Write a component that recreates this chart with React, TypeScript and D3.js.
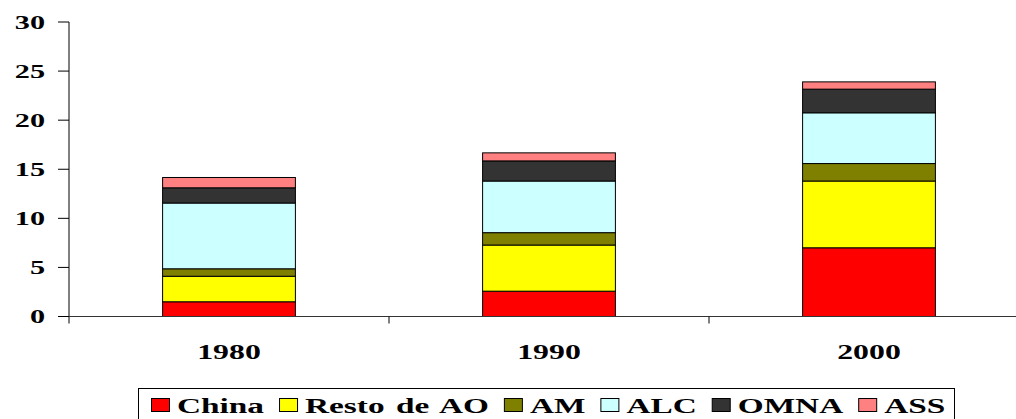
import React, { useEffect, useRef } from "react";
import * as d3 from "d3";

const years = ["1980", "1990", "2000"];
const seriesNames = ["China", "Resto de AO", "AM", "ALC", "OMNA", "ASS"];
const seriesColors = ["#FF0000", "#FFFF00", "#808000", "#CCFFFF", "#333333", "#FF8080"];
const china = [1.5, 2.58, 7.0];
const restoDeAO = [2.6, 4.7, 6.8];
const am = [0.76, 1.26, 1.78];
const alc = [6.7, 5.26, 5.17];
const omna = [1.55, 2.05, 2.41];
const ass = [1.05, 0.82, 0.74];
const yTicks = [0, 5, 10, 15, 20, 25, 30];

const W = 1016;
const H = 419;
const SX = 1.55;
const FONT = "'Liberation Serif', 'Times New Roman', serif";

export default function App() {
  const ref = useRef<SVGSVGElement | null>(null);

  useEffect(() => {
    const svg = d3.select(ref.current);
    svg.selectAll("*").remove();

    const plotLeft = 69;
    const plotTop = 22;
    const plotBottom = 316.5;
    const bandW = 320;

    const x = d3
      .scaleBand<string>()
      .domain(years)
      .range([plotLeft, plotLeft + bandW * years.length])
      .paddingInner(0.585)
      .paddingOuter(0.2925);
    const y = d3.scaleLinear().domain([0, 30]).range([plotBottom, plotTop]);

    const values = [china, restoDeAO, am, alc, omna, ass];
    const table = years.map((yr, i) => {
      const row: any = { year: yr };
      seriesNames.forEach((s, j) => (row[s] = values[j][i]));
      return row;
    });
    const stacked = d3.stack<any>().keys(seriesNames)(table);

    const txt = (
      g: any,
      tx: number,
      ty: number,
      s: string,
      anchor: string,
      size: number
    ) =>
      g
        .append("text")
        .attr("transform", `translate(${tx},${ty}) scale(${SX},1)`)
        .attr("text-anchor", anchor)
        .attr("font-family", FONT)
        .attr("font-weight", "bold")
        .attr("font-size", size)
        .attr("fill", "#000")
        .text(s);

    // bars
    stacked.forEach((layer, j) => {
      svg
        .append("g")
        .selectAll("rect")
        .data(layer)
        .join("rect")
        .attr("x", (d: any) => x(d.data.year)!)
        .attr("width", x.bandwidth())
        .attr("y", (d: any) => y(d[1]))
        .attr("height", (d: any) => y(d[0]) - y(d[1]))
        .attr("fill", seriesColors[j])
        .attr("stroke", "#000")
        .attr("stroke-width", 1);
    });

    // y axis
    const ax = svg.append("g");
    ax.append("line")
      .attr("x1", plotLeft)
      .attr("x2", plotLeft)
      .attr("y1", plotTop)
      .attr("y2", plotBottom + 7)
      .attr("stroke", "#000");
    yTicks.forEach((t) => {
      ax.append("line")
        .attr("x1", plotLeft - 11)
        .attr("x2", plotLeft)
        .attr("y1", y(t))
        .attr("y2", y(t))
        .attr("stroke", "#000");
      txt(ax, 45, y(t) + 6.5, String(t), "end", 19.5);
    });

    // x axis
    ax.append("line")
      .attr("x1", plotLeft)
      .attr("x2", W)
      .attr("y1", plotBottom)
      .attr("y2", plotBottom)
      .attr("stroke", "#333");
    years.forEach((yr, i) => {
      const bx = plotLeft + bandW * (i + 1);
      ax.append("line")
        .attr("x1", bx)
        .attr("x2", bx)
        .attr("y1", plotBottom)
        .attr("y2", plotBottom + 7)
        .attr("stroke", "#000");
      txt(ax, x(yr)! + x.bandwidth() / 2, 359, yr, "middle", 20.5);
    });

    // legend
    const lg = svg.append("g");
    lg.append("rect")
      .attr("x", 138.5)
      .attr("y", 388.5)
      .attr("width", 816)
      .attr("height", 50)
      .attr("fill", "#fff")
      .attr("stroke", "#000");
    let cx = 151;
    seriesNames.forEach((s, j) => {
      lg.append("rect")
        .attr("x", cx + 0.5)
        .attr("y", 398.5)
        .attr("width", 18)
        .attr("height", 13)
        .attr("fill", seriesColors[j])
        .attr("stroke", "#000");
      const t = txt(lg, cx + 26, 412.5, s, "start", 21.5);
      (t.node() as SVGTextElement).style.wordSpacing = "2px";
      const w = (t.node() as SVGTextElement).getComputedTextLength() * SX;
      cx = cx + 26 + w + 15;
    });
  }, []);

  return (
    <svg
      ref={ref}
      width={W}
      height={H}
      style={{ position: "absolute", left: 0, top: 0, background: "#fff" }}
    />
  );
}
